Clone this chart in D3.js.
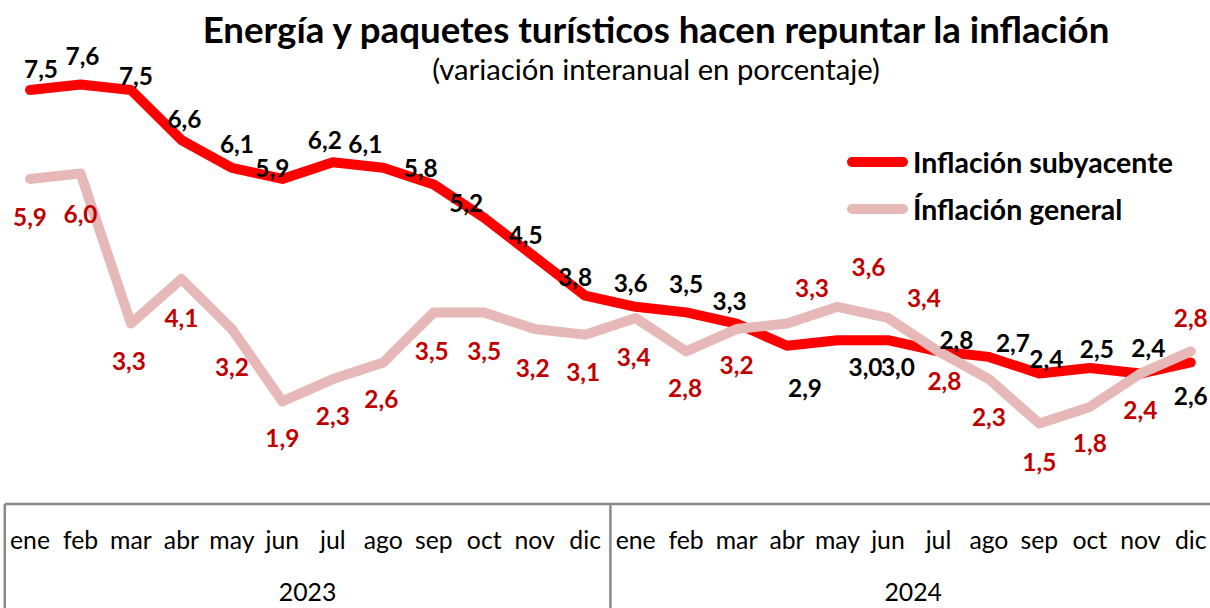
<!DOCTYPE html>
<html>
<head>
<meta charset="utf-8">
<script src="https://cdn.jsdelivr.net/npm/d3@7"></script>
<style>
  html, body { margin: 0; padding: 0; background: #fff; overflow: hidden; }
  svg { display: block; }
</style>
</head>
<body>
<svg id="chart" width="1210" height="608"></svg>
<script>
// ---- data ----
const months = ["ene","feb","mar","abr","may","jun","jul","ago","sep","oct","nov","dic"];
const years = ["2023","2024"];
const subyacente = [7.5,7.6,7.5,6.6,6.1,5.9,6.2,6.1,5.8,5.2,4.5,3.8,
                    3.6,3.5,3.3,2.9,3.0,3.0,2.8,2.7,2.4,2.5,2.4,2.6];
const general    = [5.9,6.0,3.3,4.1,3.2,1.9,2.3,2.6,3.5,3.5,3.2,3.1,
                    3.4,2.8,3.2,3.3,3.6,3.4,2.8,2.3,1.5,1.8,2.4,2.8];
const seriesNames = ["Inflación subyacente","Ínflación general"];
const titleText = "Energía y paquetes turísticos hacen repuntar la inflación";
const subtitleText = "(variación interanual en porcentaje)";

// ---- label layout (manual placement as in the original) ----
const subLabelDx = [11,2,5,3,5,-10,-8,-18,-13,-18,-9,-10,-5,0,-7,18,28,10,18,24,7,7,8,0];
const subLabelDy = [-22,-29,-15,-22,-24,-11,-23,-24,-17,-15,-22,-19,-24,-29,-23,42,26,26,-12,-14,-15,-20,-26,33];
const genLabelDx = [0,0,-2,0,0,0,0,-2,-2,0,-2,-2,-2,-1,0,25,31,36,6,0,0,0,0,0];
const genLabelDy = [38,40,37,38,37,36,36,36,38,38,38,37,39,36,35,-36,-40,-20,29,37,38,36,36,-34];

const FONT = "Lato, 'Open Sans', 'DejaVu Sans', sans-serif";
const svg = d3.select("#chart");

const idx = d3.range(subyacente.length);
const x = d3.scaleBand().domain(idx).range([4.8, 1216]).padding(0);
const cx = i => x(i) + x.bandwidth() / 2;
const y = d3.scaleLinear().domain([0, 8]).range([507, 507 - 8 * 55.6]);

function fit(t, w) {
  const cur = t.node().getComputedTextLength();
  const fs = parseFloat(t.attr("font-size"));
  t.attr("font-size", fs * w / cur);
  return fs * w / cur;
}
function measure(str, weight) {
  const t = svg.append("text").attr("font-family", FONT).attr("font-weight", weight)
    .attr("font-size", 100).text(str);
  const w = t.node().getComputedTextLength();
  t.remove();
  return w;
}
const fmt = v => d3.format(".1f")(v).replace(".", ",");

// ---- title ----
const title = svg.append("text").attr("x", 656).attr("y", 43).attr("text-anchor", "middle")
  .attr("font-family", FONT).attr("font-weight", "bold").attr("font-size", 32)
  .attr("fill", "#000").text(titleText);
fit(title, 907);
const sub = svg.append("text").attr("x", 656).attr("y", 80).attr("text-anchor", "middle")
  .attr("font-family", FONT).attr("font-size", 22).attr("fill", "#000").text(subtitleText);
fit(sub, 448);

// ---- table axis ----
const grid = svg.append("g").attr("stroke", "#8a8a8a").attr("stroke-width", 2.5);
grid.append("line").attr("x1", x(0)).attr("x2", 1216).attr("y1", 504).attr("y2", 504);
[0, 12].forEach(i => grid.append("line").attr("x1", x(i)).attr("x2", x(i))
  .attr("y1", 504).attr("y2", 620));

const monthSize = 100 * 40 / measure("ene", "normal");
const axisG = svg.append("g").attr("font-family", FONT).attr("font-size", monthSize)
  .attr("text-anchor", "middle").attr("fill", "#000");
axisG.selectAll("text.m").data(idx).join("text").attr("class", "m")
  .attr("x", i => cx(i)).attr("y", 549).text(i => months[i % 12]);
axisG.selectAll("text.yr").data(years).join("text").attr("class", "yr")
  .attr("x", (d, k) => (x(k * 12) + x(k * 12 + 11) + x.bandwidth()) / 2)
  .attr("y", 601).text(d => d);

// ---- lines ----
const line = d3.line().x((d, i) => cx(i)).y(d => y(d));
svg.append("path").datum(subyacente).attr("d", line).attr("fill", "none")
  .attr("stroke", "#FF0000").attr("stroke-width", 10)
  .attr("stroke-linejoin", "round").attr("stroke-linecap", "round");
svg.append("path").datum(general).attr("d", line).attr("fill", "none")
  .attr("stroke", "#E6B9B8").attr("stroke-width", 10)
  .attr("stroke-linejoin", "round").attr("stroke-linecap", "round");

// ---- data labels ----
const labelSize = 100 * 34 / measure("6,6", "bold");
const lab = svg.append("g").attr("font-family", FONT).attr("font-weight", "bold")
  .attr("font-size", labelSize).attr("text-anchor", "middle")
  .attr("dominant-baseline", "central");
lab.selectAll("text.s").data(subyacente).join("text").attr("class", "s")
  .attr("x", (d, i) => cx(i) + subLabelDx[i]).attr("y", (d, i) => y(d) + subLabelDy[i])
  .attr("fill", "#000").text(d => fmt(d));
lab.selectAll("text.g").data(general).join("text").attr("class", "g")
  .attr("x", (d, i) => cx(i) + genLabelDx[i]).attr("y", (d, i) => y(d) + genLabelDy[i])
  .attr("fill", "#C00000").text(d => fmt(d));

// ---- legend ----
const legColors = ["#FF0000", "#E6B9B8"];
const legY = [162, 209];
const legendSize = 100 * 260 / measure(seriesNames[0], "bold");
const leg = svg.append("g");
seriesNames.forEach((n, k) => {
  leg.append("line").attr("x1", 852).attr("x2", 903).attr("y1", legY[k]).attr("y2", legY[k])
    .attr("stroke", legColors[k]).attr("stroke-width", 10).attr("stroke-linecap", "round");
  leg.append("text").attr("x", 913).attr("y", legY[k]).attr("dominant-baseline", "central")
    .attr("font-family", FONT).attr("font-weight", "bold").attr("font-size", legendSize)
    .attr("fill", "#000").text(n);
});
</script>
</body>
</html>
